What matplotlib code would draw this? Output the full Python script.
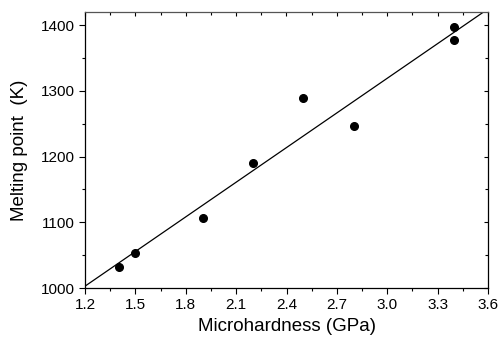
import numpy as np
import matplotlib.pyplot as plt
from matplotlib.ticker import MultipleLocator

plt.rcParams['font.family'] = ['Liberation Sans', 'DejaVu Sans']

# Data
hardness = [1.4, 1.5, 1.9, 2.2, 2.5, 2.8, 3.4, 3.4]
melting = [1032, 1054, 1107, 1190, 1289, 1246, 1397, 1377]

fig = plt.figure(figsize=(4.99, 3.40), dpi=100)
ax = fig.add_axes([85 / 499, 1 - 288 / 340, 403 / 499, 276 / 340])

# linear fit through the points
slope, intercept = np.polyfit(hardness, melting, 1)
xfit = np.array([1.2, 3.6])
ax.plot(xfit, slope * xfit + intercept, color='black', lw=0.9)

ax.plot(hardness, melting, 'o', color='black', ms=5.5, mec='black')

ax.set_xlim(1.2, 3.6)
ax.set_ylim(1000, 1420)
ax.xaxis.set_major_locator(MultipleLocator(0.3))
ax.xaxis.set_minor_locator(MultipleLocator(0.15))
ax.yaxis.set_major_locator(MultipleLocator(100))
ax.yaxis.set_minor_locator(MultipleLocator(50))
ax.set_xticklabels([f'{v:.1f}' for v in ax.get_xticks()])

# outward ticks on bottom/left, inward on top/right (no labels)
ax.tick_params(which='both', direction='out', labelsize=11, width=0.8)
ax.tick_params(which='major', length=4)
ax.tick_params(which='minor', length=2.5)
sec_x = ax.secondary_xaxis('top')
sec_y = ax.secondary_yaxis('right')
for sec in (sec_x, sec_y):
    sec.tick_params(which='both', direction='in', width=0.8, labelbottom=False,
                    labeltop=False, labelleft=False, labelright=False)
    sec.tick_params(which='major', length=3)
    sec.tick_params(which='minor', length=2)
sec_x.xaxis.set_major_locator(MultipleLocator(0.3))
sec_x.xaxis.set_minor_locator(MultipleLocator(0.15))
sec_y.yaxis.set_major_locator(MultipleLocator(100))
sec_y.yaxis.set_minor_locator(MultipleLocator(50))
for sec in (sec_x, sec_y):
    for s in sec.spines.values():
        s.set_visible(False)

for s in ax.spines.values():
    s.set_linewidth(0.9)
ax.spines['top'].set_color('#555555')

ax.set_xlabel('Microhardness (GPa)', fontsize=13.5, labelpad=4)
ax.set_ylabel('Melting point  (K)', fontsize=13.5, labelpad=9)

fig.savefig('out.png', dpi=100)
